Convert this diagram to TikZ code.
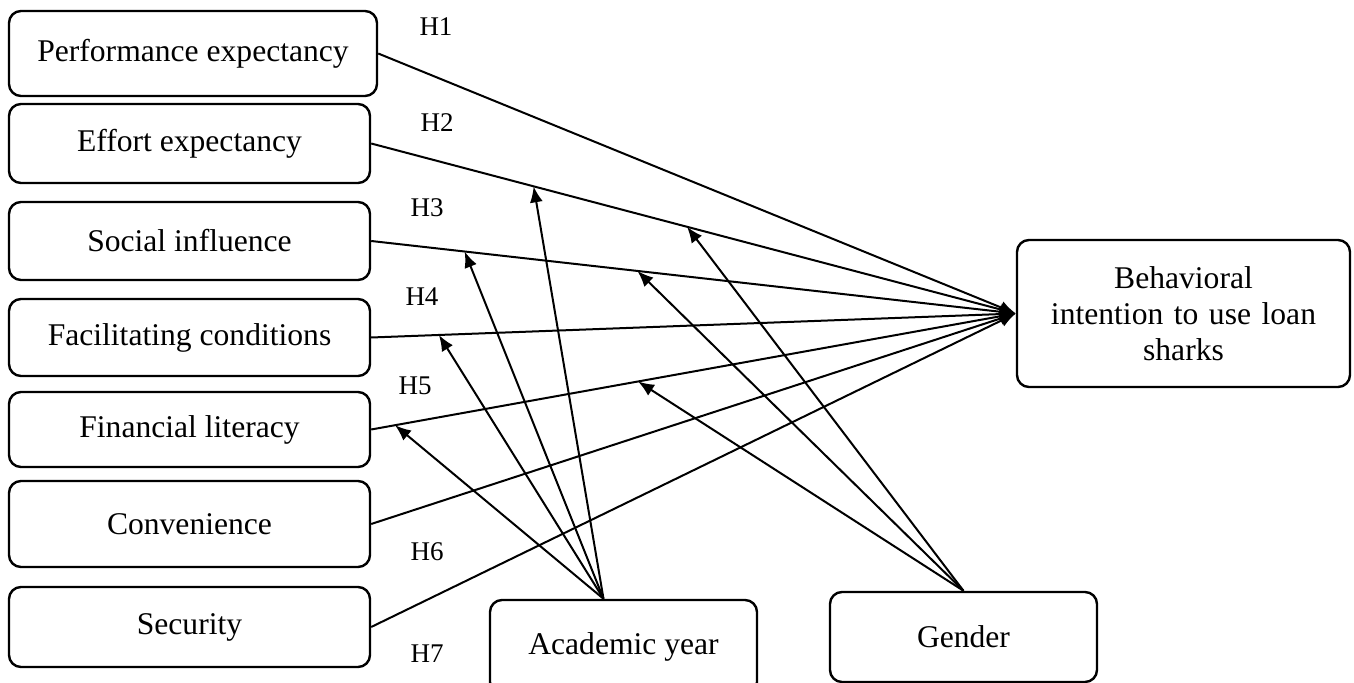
\documentclass[tikz,border=0pt]{standalone}
\usepackage{fontspec}
\setmainfont{Liberation Serif}
\usetikzlibrary{arrows.meta}

\tikzset{
    box/.style={draw, line width=1.2pt, rounded corners=6pt, inner sep=0pt,
        minimum width=180.5pt, font=\fontsize{15.8}{18}\selectfont},
    hlab/.style={font=\fontsize{13.5}{15}\selectfont},
    arr/.style={line width=1pt, -{Latex[length=8pt,width=6.5pt]}},
}

\begin{document}
\begin{tikzpicture}[x=0.5pt, y=-0.5pt]
    \useasboundingbox (0,0) rectangle (1354,683);

    % constructs on the left
    \node[box, minimum width=184pt, minimum height=42.5pt] (perf) at (193,53.5) {Performance expectancy};
    \node[box, minimum height=39.5pt] (effort) at (189.5,143.5) {Effort expectancy};
    \node[box, minimum height=39pt] (social) at (189.5,241) {Social influence};
    \node[box, minimum height=38.5pt] (facil) at (189.5,337.5) {Facilitating conditions};
    \node[box, minimum height=37.5pt] (finlit) at (189.5,429.5) {Financial literacy};
    \node[box, minimum height=43pt] (conv) at (189.5,524) {Convenience};
    \node[box, minimum height=40pt] (secur) at (189.5,627) {Security};

    % outcome and moderators
    \node[box, minimum width=166.5pt, minimum height=73.5pt, text width=140pt, align=center] (behav) at (1183.5,313.5)
        {Behavioral\\ intention to use loan\\ sharks};
    \node[box, minimum width=133.5pt, minimum height=47pt] (acad) at (623.5,647) {Academic year};
    \node[box, minimum width=133.5pt, minimum height=45pt] (gender) at (963.5,637) {Gender};

    % hypotheses
    \node[hlab] (h1) at (436,27) {H1};
    \node[hlab] (h2) at (437,123) {H2};
    \node[hlab] (h3) at (427,208) {H3};
    \node[hlab] (h4) at (422,297) {H4};
    \node[hlab] (h5) at (415,386) {H5};
    \node[hlab] (h6) at (427,552) {H6};
    \node[hlab] (h7) at (427,654) {H7};

    % direct paths
    \draw[arr] (perf.east) -- (behav.west);
    \draw[arr] (effort.east) -- coordinate[pos=0.252] (ee-a) coordinate[pos=0.49] (ee-g) (behav.west);
    \draw[arr] (social.east) -- coordinate[pos=0.145] (si-a) coordinate[pos=0.413] (si-g) (behav.west);
    \draw[arr] (facil.east) -- coordinate[pos=0.105] (fc-a) (behav.west);
    \draw[arr] (finlit.east) -- coordinate[pos=0.037] (fl-a) coordinate[pos=0.414] (fl-g) (behav.west);
    \draw[arr] (conv.east) -- (behav.west);
    \draw[arr] (secur.east) -- (behav.west);

    % moderating paths
    \coordinate (acadtop) at ([xshift=-10pt]acad.north);
    \foreach \t in {ee-a, si-a, fc-a, fl-a}
        \draw[arr] (acadtop) -- (\t);
    \foreach \t in {ee-g, si-g, fl-g}
        \draw[arr] (gender.north) -- (\t);

\end{tikzpicture}
\end{document}
